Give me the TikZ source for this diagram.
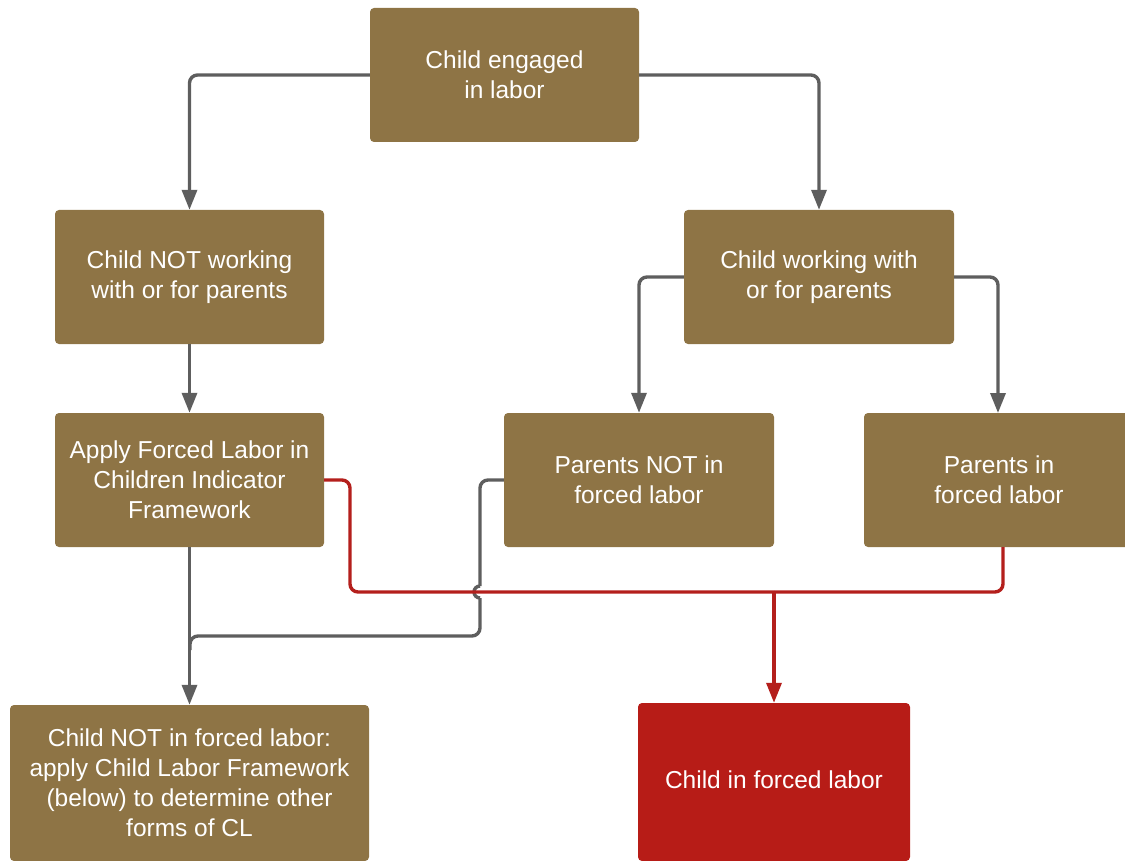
\documentclass[tikz,border=0pt]{standalone}
\usepackage{fontspec}
\setmainfont{Liberation Sans}
\usetikzlibrary{arrows.meta}
\definecolor{brownbox}{HTML}{8E7445}
\definecolor{redbox}{HTML}{B71C17}
\definecolor{grayline}{HTML}{5E5E5E}
\definecolor{redline}{HTML}{B41F1C}
\tikzset{
  box/.style={fill=brownbox, rounded corners=4pt, inner sep=0pt, text=white, align=center,
    font=\fontsize{24.5}{30}\selectfont},
  redb/.style={box, fill=redbox},
  gline/.style={draw=grayline, line width=3.4pt, rounded corners=8pt, -{Triangle[length=20pt,width=15pt]}},
  gnoarrow/.style={draw=grayline, line width=3.4pt, rounded corners=8pt},
  rline/.style={draw=redline, line width=3.4pt, rounded corners=8pt},
  rarrow/.style={draw=redline, line width=3.4pt, rounded corners=8pt, -{Triangle[length=20pt,width=15pt]}},
}
\begin{document}
\begin{tikzpicture}[x=1pt,y=1pt]
\useasboundingbox (0,0) rectangle (1125,-861);
\clip (0,0) rectangle (1125,-861);
% boxes
\node[box, minimum width=269pt, minimum height=134pt] (top) at (504.5,-75) {Child engaged\\in labor};
\node[box, minimum width=269pt, minimum height=134pt] (l2) at (189.5,-277) {Child NOT working\\with or for parents};
\node[box, minimum width=270pt, minimum height=134pt] (r2) at (819,-277) {Child working with\\or for parents};
\node[box, minimum width=269pt, minimum height=134pt] (l3) at (189.5,-480) {Apply Forced Labor in\\Children Indicator\\Framework};
\node[box, minimum width=270pt, minimum height=134pt] (m3) at (639,-480) {Parents NOT in\\forced labor};
\node[box, minimum width=270pt, minimum height=134pt] (r3) at (999,-480) {Parents in\\forced labor};
\node[box, minimum width=359pt, minimum height=156pt] (bl) at (189.5,-783) {Child NOT in forced labor:\\apply Child Labor Framework\\(below) to determine other\\forms of CL};
\node[redb, minimum width=272pt, minimum height=158pt] (br) at (774,-782) {};
\node[text=white, font=\fontsize{24.5}{30}\selectfont] (brt) at (774,-780) {Child in forced labor};
% gray connectors
\draw[gline] (top.west) -| (l2.north);
\draw[gline] (top.east) -| (r2.north);
\draw[gline] (l2.south) -- (l3.north);
\draw[gline] (r2.west) -| (m3.north);
\draw[gline] (r2.east) -| (998,-413);
\draw[gline] (l3.south) -- (bl.north);
\coordinate (hopA) at (480,-586);
\coordinate (hopB) at (480,-598);
\coordinate (gj) at (190,-650);
\draw[gnoarrow] (m3.west) -| (hopA);
\draw[gnoarrow] (hopA) arc[start angle=90, end angle=270, radius=6pt];
\draw[gnoarrow] (hopB) |- (190,-636) -- (gj);
% red connectors
\coordinate (rj) at (774,-592);
\draw[rline] (l3.east) -| (350,-592) -- (rj);
\draw[rline] (1003,-547) |- (rj);
\draw[rarrow] (rj) -- (br.north);
\end{tikzpicture}
\end{document}
